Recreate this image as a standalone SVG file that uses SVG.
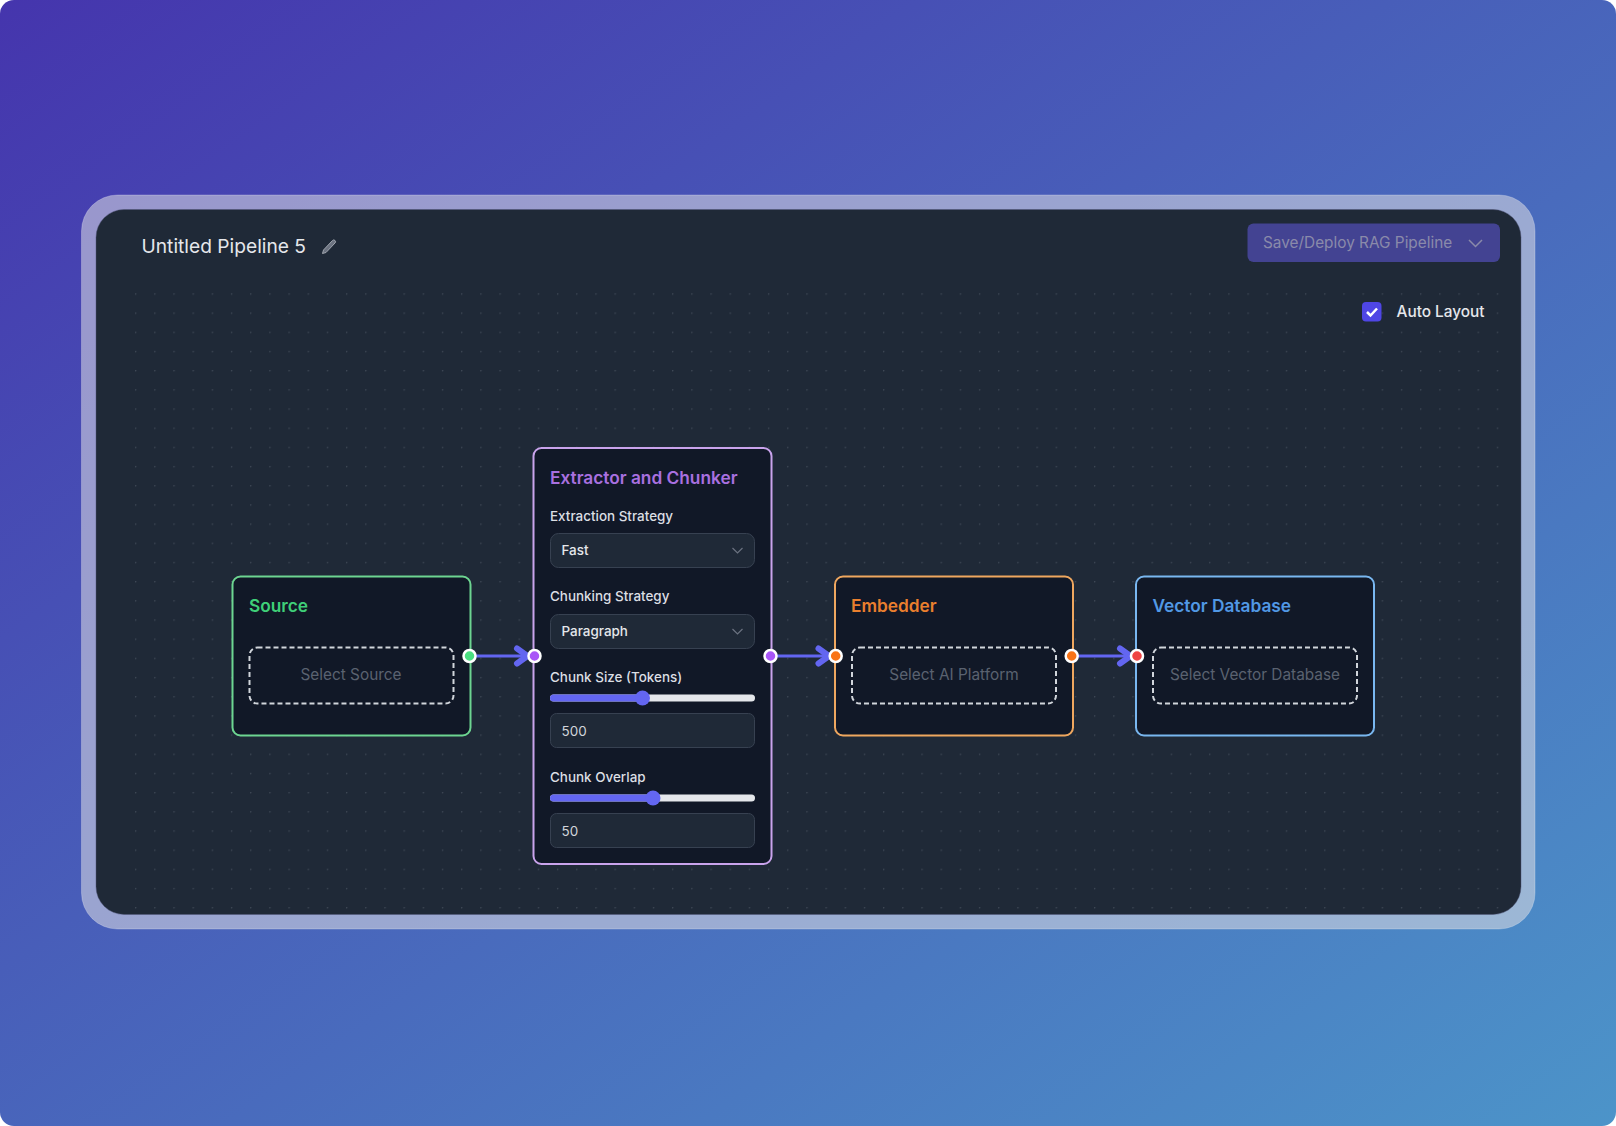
<svg xmlns="http://www.w3.org/2000/svg" width="1616" height="1126" viewBox="0 0 1616 1126">
<style>
text{font-family:Inter,"Liberation Sans",sans-serif}
.card{fill:#111827;stroke-width:2}
.ttl{font-size:17.28px;font-weight:600}
.dash{fill:none;stroke:#d1d5db;stroke-width:2;stroke-dasharray:5 3}
.ph{font-size:15.36px;fill:#5a6270;text-anchor:middle}
.lbl{font-size:13.44px;font-weight:500;fill:#dcdfe4}
.field{fill:#1f2937;stroke:#374151;stroke-width:1}
.val{font-size:13.44px;fill:#d1d5db}
.sel{font-size:13.44px;font-weight:500;fill:#e5e7eb}
.chev{fill:none;stroke:#6b7280;stroke-width:1.2}
.track{fill:#e5e7eb}
.prog{fill:#6366f1}
.hd{stroke:#fff;stroke-width:2.5}
.edge{fill:none;stroke:#6366f1;stroke-width:3;marker-end:url(#arr)}
</style>
<defs>
<linearGradient id="bg" x1="0" y1="0" x2="1" y2="1">
<stop offset="0" stop-color="#4535ad"/>
<stop offset="1" stop-color="#4c94c9"/>
</linearGradient>
<pattern id="dots" x="135" y="293.3" width="19.18" height="19.18" patternUnits="userSpaceOnUse">
<circle cx="0.6" cy="0.6" r="0.8" fill="#4b5563" fill-opacity=".7"/>
</pattern>
<marker id="arr" viewBox="0 0 24 24" refX="21.500" refY="12" markerWidth="24" markerHeight="24" markerUnits="userSpaceOnUse" orient="auto" overflow="visible">
<path d="M4.500 4.500 L15 12 L4.500 19.500" fill="none" stroke="#6366f1" stroke-width="6" stroke-linecap="round" stroke-linejoin="round"/>
</marker>
</defs>
<rect width="1616" height="1126" rx="14" fill="url(#bg)"/>
<rect x="81.500" y="195" width="1453.500" height="734" rx="36" fill="#dcdce3" fill-opacity=".56" stroke="#fff" stroke-opacity=".25"/>
<rect x="96" y="209.500" width="1425" height="705" rx="28" fill="#1f2937" stroke="#4f5578" stroke-width="1" stroke-opacity=".45"/>
<rect x="133" y="291" width="1368" height="620" fill="url(#dots)"/>

<g id="header">
<text x="141.500" y="253" font-size="19.200" fill="#e5e7eb">Untitled Pipeline 5</text>
<path d="M322.500 253.500 l1-3.500 l9-9.500 a1.500 1.500 0 0 1 2.500 2.500 l-9 9.500 z" fill="#6b7280" stroke="#a0a5ae" stroke-width="1" stroke-linejoin="round"/>
</g>
<g id="save-button">
<rect x="1247.500" y="223.500" width="252.500" height="38.500" rx="6" fill="#434392"/>
<text x="1263" y="248" font-size="15.360" fill="#8a8aaa">Save/Deploy RAG Pipeline</text>
<path d="M1469 240 l6.500 6.500 l6.500-6.500" fill="none" stroke="#8a8aaa" stroke-width="1.500"/>
</g>
<g id="auto-layout">
<rect x="1362" y="302" width="19.500" height="19.500" rx="4" fill="#4f46e5"/>
<path d="M1367 312 l3.500 3.500 l6.500-7" fill="none" stroke="#fff" stroke-width="2.500"/>
<text x="1396.500" y="317" font-size="15.360" font-weight="500" fill="#e5e7eb">Auto Layout</text>
</g>

<g id="connectors">
<path class="edge" d="M476 656 H534"/>
<path class="edge" d="M777 656 H835.500"/>
<path class="edge" d="M1078 656 H1137"/>
</g>

<g id="node-source">
<rect class="card" x="232.500" y="576.500" width="238" height="159" rx="8" stroke="#6dd591"/>
<text class="ttl" x="249" y="612" fill="#3fcf78">Source</text>
<rect class="dash" x="249.500" y="647.500" width="204" height="56" rx="8"/>
<text class="ph" x="351" y="680">Select Source</text>
</g>
<g id="node-extractor">
<rect class="card" x="533.500" y="448" width="238" height="416" rx="8" stroke="#c9a3ec"/>
<text class="ttl" x="550" y="484" fill="#a970e0">Extractor and Chunker</text>
<text class="lbl" x="550" y="521">Extraction Strategy</text>
<rect class="field" x="550.500" y="533.500" width="204" height="34" rx="8"/>
<text class="sel" x="561.500" y="555">Fast</text>
<path class="chev" d="M732.500 548 l5 5 l5-5"/>
<text class="lbl" x="550" y="601">Chunking Strategy</text>
<rect class="field" x="550.500" y="614.500" width="204" height="34" rx="8"/>
<text class="sel" x="561.500" y="636">Paragraph</text>
<path class="chev" d="M732.500 629 l5 5 l5-5"/>
<text class="lbl" x="550" y="681.500">Chunk Size (Tokens)</text>
<rect class="track" x="550" y="694.500" width="205" height="7" rx="3.500"/>
<rect class="prog" x="550" y="694.500" width="92" height="7" rx="3.500"/>
<circle class="prog" cx="642.500" cy="698" r="7.500"/>
<rect class="field" x="550.500" y="713.500" width="204" height="34" rx="6"/>
<text class="val" x="561.500" y="735.500">500</text>
<text class="lbl" x="550" y="781.500">Chunk Overlap</text>
<rect class="track" x="550" y="794.500" width="205" height="7" rx="3.500"/>
<rect class="prog" x="550" y="794.500" width="103" height="7" rx="3.500"/>
<circle class="prog" cx="653" cy="798" r="7.500"/>
<rect class="field" x="550.500" y="813.500" width="204" height="34" rx="6"/>
<text class="val" x="561.500" y="835.500">50</text>
</g>
<g id="node-embedder">
<rect class="card" x="835" y="576.500" width="238" height="159" rx="8" stroke="#efa75f"/>
<text class="ttl" x="851" y="612" fill="#ea7f2e">Embedder</text>
<rect class="dash" x="852" y="647.500" width="204" height="56" rx="8"/>
<text class="ph" x="954" y="680">Select AI Platform</text>
</g>
<g id="node-vector">
<rect class="card" x="1136" y="576.500" width="238" height="159" rx="8" stroke="#79b7f0"/>
<text class="ttl" x="1152.500" y="612" fill="#5198e5">Vector Database</text>
<rect class="dash" x="1153" y="647.500" width="204" height="56" rx="8"/>
<text class="ph" x="1255" y="680">Select Vector Database</text>
</g>
<g id="handles">
<circle class="hd" cx="469.500" cy="656" r="6" fill="#4ade80"/>
<circle class="hd" cx="534.500" cy="656" r="6" fill="#a855f7"/>
<circle class="hd" cx="770.500" cy="656" r="6" fill="#a855f7"/>
<circle class="hd" cx="835.700" cy="656" r="6" fill="#f97316"/>
<circle class="hd" cx="1071.700" cy="656" r="6" fill="#f97316"/>
<circle class="hd" cx="1137" cy="656" r="6" fill="#ef4444"/>
</g>
</svg>
